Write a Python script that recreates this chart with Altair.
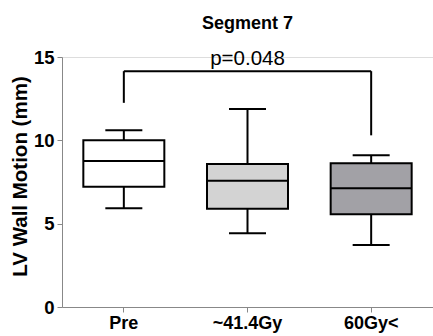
import altair as alt
import pandas as pd

groups = ["Pre", "~41.4Gy", "60Gy<"]
whisker_low = [5.92, 4.42, 3.72]
q1 = [7.22, 5.90, 5.56]
median = [8.76, 7.58, 7.12]
q3 = [10.0, 8.58, 8.62]
whisker_high = [10.6, 11.88, 9.1]
fills = ["#ffffff", "#d3d3d3", "#a2a1a6"]

bracket_from = "Pre"
bracket_to = "60Gy<"
bracket_mid = "~41.4Gy"
bracket_y = 14.15
bracket_leg_low = [12.25, 10.3]
p_label = "p=0.048"

FONT = "Liberation Sans"

box_df = pd.DataFrame({
    "group": groups, "lo": whisker_low, "q1": q1, "med": median,
    "q3": q3, "hi": whisker_high,
})
bracket_df = pd.DataFrame({"group": [bracket_from], "group2": [bracket_to], "y": [bracket_y]})
legs_df = pd.DataFrame({"group": [bracket_from, bracket_to], "low": bracket_leg_low,
                        "y": [bracket_y, bracket_y]})
text_df = pd.DataFrame({"group": [bracket_mid], "y": [bracket_y], "label": [p_label]})

xscale = alt.Scale(domain=groups, paddingInner=0, paddingOuter=0)
yscale = alt.Scale(domain=[0, 15], nice=False, zero=True)

X = alt.X("group:N", sort=groups, scale=xscale,
          axis=alt.Axis(title=None, labelAngle=0, labelPadding=2,
                        labelFontSize=18, labelFontWeight="bold"))
Yax = alt.Axis(title="LV Wall Motion (mm)", values=[0, 5, 10, 15], grid=False,
               labelFontSize=18.5, labelFontWeight="bold", labelPadding=3,
               titleFontSize=20.5, titleFontWeight="bold", titleX=-36, titleY=119,
               titleBaseline="alphabetic", titleAngle=-90, titleAlign="center")

base = alt.Chart(box_df)

whisk_hi = base.mark_rule(color="black", strokeWidth=2).encode(
    x=X, y=alt.Y("q3:Q", scale=yscale, axis=Yax), y2="hi:Q")
whisk_lo = base.mark_rule(color="black", strokeWidth=2).encode(
    x=X, y=alt.Y("lo:Q", scale=yscale), y2="q1:Q")
boxes = base.mark_bar(size=81, stroke="black", strokeWidth=2).encode(
    x=X, y=alt.Y("q1:Q", scale=yscale), y2="q3:Q",
    fill=alt.Fill("group:N", scale=alt.Scale(domain=groups, range=fills), legend=None))
meds = base.mark_tick(size=81, thickness=2, color="black", opacity=1).encode(
    x=X, y=alt.Y("med:Q", scale=yscale))
caps_hi = base.mark_tick(size=37, thickness=2, color="black", opacity=1).encode(
    x=X, y=alt.Y("hi:Q", scale=yscale))
caps_lo = base.mark_tick(size=37, thickness=2, color="black", opacity=1).encode(
    x=X, y=alt.Y("lo:Q", scale=yscale))

bracket = alt.Chart(bracket_df).mark_rule(color="black", strokeWidth=2).encode(
    x=X, x2="group2:N", y=alt.Y("y:Q", scale=yscale))
legs = alt.Chart(legs_df).mark_rule(color="black", strokeWidth=2).encode(
    x=X, y=alt.Y("low:Q", scale=yscale), y2="y:Q")
ptext = alt.Chart(text_df).mark_text(font=FONT, fontSize=20.5, dy=-6, baseline="alphabetic",
                                     color="black").encode(
    x=X, y=alt.Y("y:Q", scale=yscale), text="label:N")

chart = alt.layer(whisk_hi, whisk_lo, boxes, meds, caps_hi, caps_lo, bracket, legs, ptext).properties(
    width=371, height=250,
    title=alt.TitleParams("Segment 7", fontSize=18, fontWeight="bold", font=FONT,
                          frame="group", offset=1, baseline="alphabetic", anchor="middle",
                          color="black"),
    autosize=alt.AutoSizeParams(type="none"),
    padding={"left": 62, "top": 57, "right": 0, "bottom": 29},
).configure_view(stroke=None).configure_axis(
    labelFont=FONT, titleFont=FONT, labelColor="black", titleColor="black",
    domainColor="black", domainWidth=1.5, tickColor="black", tickWidth=1.5, tickSize=4,
).configure(background="white")

chart.save("out.html", embed_options={"renderer": "svg", "actions": False})
